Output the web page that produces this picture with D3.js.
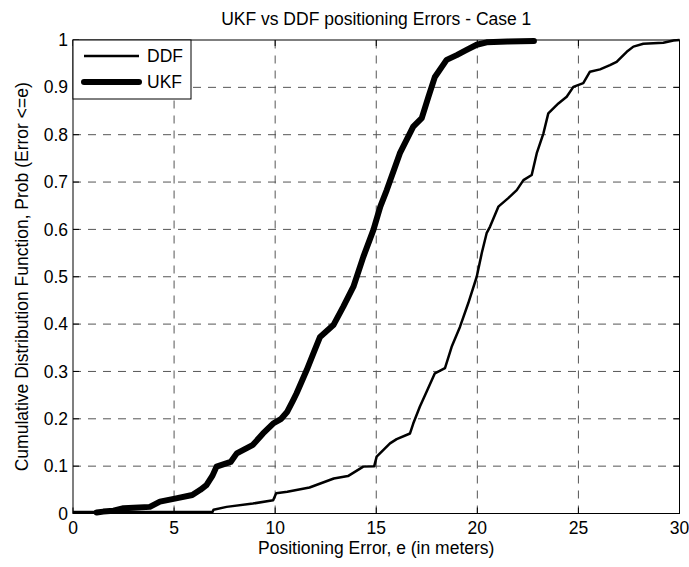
<!DOCTYPE html>
<html>
<head>
<meta charset="utf-8">
<script src="https://cdn.jsdelivr.net/npm/d3@7"></script>
<style>
  html, body { margin: 0; padding: 0; background: #fff; }
  svg { display: block; }
  text { font-family: "Liberation Sans", Arial, sans-serif; fill: #000; }
</style>
</head>
<body>
<svg id="chart" width="689" height="567"></svg>
<script>
// ---- data ----
const ukfX = [1.17, 1.5, 2.0, 2.5, 3.0, 3.8, 4.3, 5.1, 5.9, 6.3, 6.6, 6.9, 7.1, 7.8, 8.1, 8.9, 9.4, 9.9, 10.3, 10.6, 10.9, 11.06, 11.56, 11.89, 12.22, 12.88, 13.37, 13.87, 14.36, 14.86, 15.2, 15.52, 16.17, 16.83, 17.25, 17.58, 17.9, 18.48, 18.98, 19.47, 19.97, 20.46, 21.5, 22.8];
const ukfY = [0.002, 0.004, 0.006, 0.011, 0.012, 0.014, 0.025, 0.032, 0.039, 0.05, 0.06, 0.08, 0.099, 0.109, 0.127, 0.145, 0.169, 0.19, 0.2, 0.215, 0.24, 0.254, 0.303, 0.338, 0.373, 0.398, 0.437, 0.479, 0.542, 0.599, 0.648, 0.683, 0.761, 0.817, 0.835, 0.88, 0.922, 0.958, 0.968, 0.979, 0.99, 0.995, 0.997, 0.998];

const ddfX = [0, 6.9, 6.95, 7.6, 8.9, 9.9, 10.05, 10.6, 11.7, 12.9, 13.6, 14.36, 14.9, 15.02, 15.68, 16.01, 16.67, 16.83, 17.16, 17.49, 17.9, 18.4, 18.73, 19.14, 19.55, 19.97, 20.22, 20.46, 20.63, 21.04, 21.53, 21.95, 22.28, 22.69, 22.94, 23.27, 23.51, 24.01, 24.42, 24.75, 25.24, 25.57, 26.07, 26.56, 26.89, 27.39, 27.72, 28.21, 29.2, 29.7, 30];
const ddfY = [0.003, 0.003, 0.008, 0.014, 0.021, 0.028, 0.043, 0.046, 0.055, 0.074, 0.079, 0.099, 0.1, 0.12, 0.148, 0.157, 0.169, 0.19, 0.226, 0.257, 0.296, 0.307, 0.352, 0.394, 0.444, 0.5, 0.55, 0.592, 0.606, 0.648, 0.666, 0.683, 0.704, 0.715, 0.761, 0.803, 0.845, 0.866, 0.88, 0.901, 0.909, 0.933, 0.938, 0.947, 0.954, 0.975, 0.986, 0.992, 0.994, 0.999, 1.0];

const xTicks = [0, 5, 10, 15, 20, 25, 30];
const yTicks = [0, 0.1, 0.2, 0.3, 0.4, 0.5, 0.6, 0.7, 0.8, 0.9, 1];
const seriesNames = ["DDF", "UKF"];

const titleText = "UKF vs DDF positioning Errors - Case 1";
const xLabelText = "Positioning Error, e (in meters)";
const yLabelText = "Cumulative Distribution Function, Prob (Error <=e)";

// ---- layout ----
const svg = d3.select("#chart");
const L = 73, T = 40, R = 679.5, B = 513.5;
const x = d3.scaleLinear().domain([0, 30]).range([L, R]);
const y = d3.scaleLinear().domain([0, 1]).range([B, T]);
const FS = 17.5;

// grid
const grid = svg.append("g");
grid.selectAll("line.gx").data(xTicks.filter(d => d > 0 && d < 30)).enter().append("line")
  .attr("x1", d => x(d)).attr("x2", d => x(d)).attr("y1", B).attr("y2", T)
  .attr("stroke", "#555").attr("stroke-width", 1).attr("stroke-dasharray", "8,7");
grid.selectAll("line.gy").data(yTicks.filter(d => d > 0 && d < 1)).enter().append("line")
  .attr("x1", L).attr("x2", R).attr("y1", d => y(d)).attr("y2", d => y(d))
  .attr("stroke", "#555").attr("stroke-width", 1).attr("stroke-dasharray", "8,7");

// inward ticks on all four sides
const tk = svg.append("g").attr("stroke", "#000").attr("stroke-width", 1);
xTicks.forEach(d => {
  tk.append("line").attr("x1", x(d)).attr("x2", x(d)).attr("y1", B).attr("y2", B - 6);
  tk.append("line").attr("x1", x(d)).attr("x2", x(d)).attr("y1", T).attr("y2", T + 6);
});
yTicks.forEach(d => {
  tk.append("line").attr("x1", L).attr("x2", L + 6).attr("y1", y(d)).attr("y2", y(d));
  tk.append("line").attr("x1", R).attr("x2", R - 6).attr("y1", y(d)).attr("y2", y(d));
});

// lines
const line = d3.line().x(d => x(d[0])).y(d => y(d[1]));
const ddf = ddfX.map((v, i) => [v, ddfY[i]]);
const ukf = ukfX.map((v, i) => [v, ukfY[i]]);
svg.append("path").attr("d", line(ddf)).attr("fill", "none").attr("stroke", "#000")
  .attr("stroke-width", 2.5).attr("stroke-linejoin", "round");
svg.append("path").attr("d", line(ukf)).attr("fill", "none").attr("stroke", "#000")
  .attr("stroke-width", 6).attr("stroke-linejoin", "round").attr("stroke-linecap", "round");

// axes box
svg.append("rect").attr("x", L).attr("y", T).attr("width", R - L).attr("height", B - T)
  .attr("fill", "none").attr("stroke", "#000").attr("stroke-width", 1);

// tick labels
svg.selectAll("text.xt").data(xTicks).enter().append("text")
  .attr("x", d => x(d)).attr("y", 533.5).attr("text-anchor", "middle")
  .attr("font-size", FS).text(d => d);
svg.selectAll("text.yt").data(yTicks).enter().append("text")
  .attr("x", 68).attr("y", d => y(d)).attr("dy", "0.35em").attr("text-anchor", "end")
  .attr("font-size", FS).text(d => d);

// title & labels
svg.append("text").attr("x", (L + R) / 2).attr("y", 25).attr("text-anchor", "middle")
  .attr("font-size", FS).text(titleText);
svg.append("text").attr("x", (L + R) / 2).attr("y", 554).attr("text-anchor", "middle")
  .attr("font-size", FS).text(xLabelText);
svg.append("text").attr("transform", `translate(27.5,${(T + B) / 2}) rotate(-90)`)
  .attr("text-anchor", "middle").attr("font-size", FS).text(yLabelText);

// legend
const lg = svg.append("g");
lg.append("rect").attr("x", L).attr("y", T).attr("width", 118).attr("height", 59)
  .attr("fill", "#fff").attr("stroke", "#000").attr("stroke-width", 1);
const legW = [2.5, 6];
const legY = [56, 82];
seriesNames.forEach((n, i) => {
  lg.append("line").attr("x1", 84).attr("x2", 139).attr("y1", legY[i]).attr("y2", legY[i])
    .attr("stroke", "#000").attr("stroke-width", legW[i]).attr("stroke-linecap", i ? "round" : "butt");
  lg.append("text").attr("x", 147).attr("y", legY[i]).attr("dy", "0.35em")
    .attr("font-size", FS).text(n);
});
</script>
</body>
</html>
